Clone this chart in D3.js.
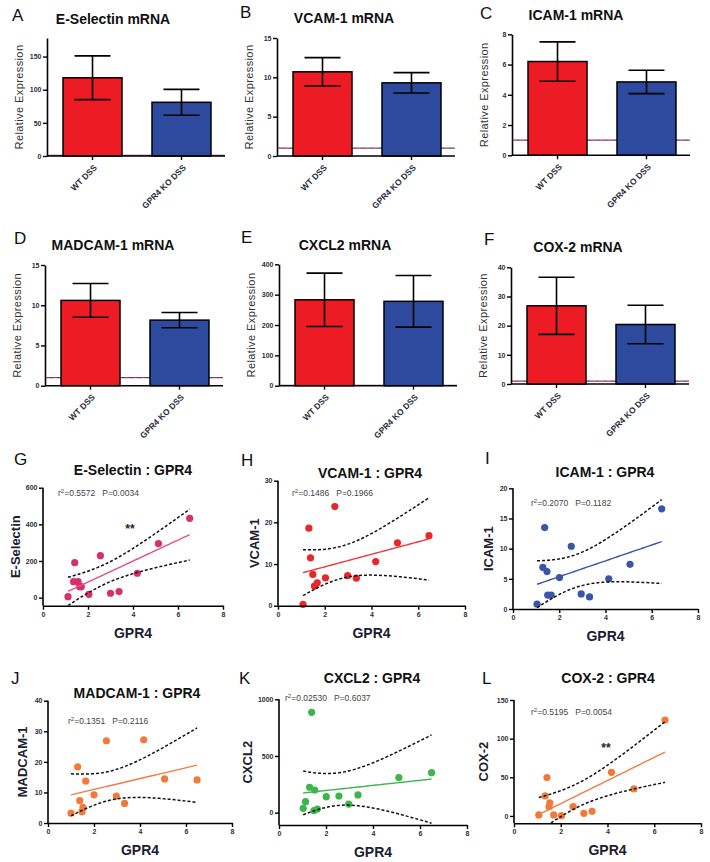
<!DOCTYPE html>
<html>
<head>
<meta charset="utf-8">
<script src="https://cdn.jsdelivr.net/npm/d3@7"></script>
<style>
  body { margin: 0; background: #fff; }
  svg { display: block; font-family: "Liberation Sans", Arial, sans-serif; }
</style>
</head>
<body>
<svg id="fig" width="710" height="862"></svg>
<script>
// ---- bar panels A-F (mean +/- SEM) ----
const barLetters = ["A", "B", "C", "D", "E", "F"];
const barTitles = ["E-Selectin mRNA", "VCAM-1 mRNA", "ICAM-1 mRNA", "MADCAM-1 mRNA", "CXCL2 mRNA", "COX-2 mRNA"];
const groups = ["WT DSS", "GPR4 KO DSS"];
const wtMean = [118, 10.7, 6.2, 10.6, 283, 26.8];
const wtSem = [33, 1.8, 1.3, 2.1, 88, 9.8];
const koMean = [81, 9.3, 4.85, 8.15, 278, 20.4];
const koSem = [19.5, 1.3, 0.77, 0.95, 85, 6.6];
const barMax = [178, 15, 8, 15, 400, 40];
const barTicks = [[0, 50, 100, 150], [0, 5, 10, 15], [0, 2, 4, 6, 8], [0, 5, 10, 15], [0, 100, 200, 300, 400], [0, 10, 20, 30, 40]];
const baseline = 1; // control level, dashed line

// ---- scatter panels G-L (vs GPR4) ----
const scatLetters = ["G", "H", "I", "J", "K", "L"];
const scatTitles = ["E-Selectin : GPR4", "VCAM-1 : GPR4", "ICAM-1 : GPR4", "MADCAM-1 : GPR4", "CXCL2 : GPR4", "COX-2 : GPR4"];
const scatYLabels = ["E-Selectin", "VCAM-1", "ICAM-1", "MADCAM-1", "CXCL2", "COX-2"];
const scatR2 = ["0.5572", "0.1486", "0.2070", "0.1351", "0.02530", "0.5195"];
const scatP = ["0.0034", "0.1966", "0.1182", "0.2116", "0.6037", "0.0054"];
const scatStars = ["**", "", "", "", "", "**"];
const xTicks = [0, 2, 4, 6, 8];
const yTicksList = [[0, 200, 400, 600], [0, 10, 20, 30], [0, 5, 10, 15, 20], [0, 10, 20, 30, 40], [0, 500, 1000], [0, 50, 100, 150]];

const gprG = [1.11, 1.41, 1.36, 1.56, 1.63, 1.70, 2.04, 2.55, 3.00, 3.38, 4.19, 5.13, 6.52];
const eSel = [5, 191, 87, 87, 60, 60, 18, 229, 24, 33, 133, 295, 433];
const gprH = [1.07, 1.32, 1.39, 1.49, 1.56, 1.68, 2.03, 2.43, 2.98, 3.35, 4.18, 5.11, 6.46];
const vcam = [0.3, 18.6, 11.5, 7.5, 4.7, 5.5, 6.7, 23.8, 7.2, 6.6, 10.6, 15.1, 16.8];
const gprI = [1.04, 1.29, 1.47, 1.37, 1.50, 1.65, 2.01, 2.52, 2.95, 3.31, 4.14, 5.06, 6.43];
const icam = [0.8, 6.9, 6.2, 13.5, 2.3, 2.3, 5.2, 10.4, 2.5, 2.0, 5.0, 7.4, 16.6];
const gprJ = [1.00, 1.29, 1.38, 1.48, 1.52, 1.64, 2.00, 2.54, 2.97, 3.33, 4.16, 5.07, 6.48];
const madcam = [3.2, 18.4, 7.3, 3.7, 5.1, 13.7, 9.2, 26.9, 8.8, 6.4, 27.2, 14.4, 14.1];
const gprK = [1.39, 1.03, 1.13, 1.30, 1.52, 1.49, 1.63, 2.01, 2.55, 2.97, 3.36, 5.10, 6.49];
const cxcl2 = [885, 38, 97, 224, 200, 18, 32, 141, 147, 76, 156, 309, 353];
const gprL = [1.06, 1.41, 1.33, 1.53, 1.50, 1.70, 2.03, 2.53, 2.99, 3.34, 4.17, 5.13, 6.46];
const cox2 = [1.3, 49.6, 25.9, 17, 12, 1.3, 0.4, 12, 3.4, 6, 56.5, 35, 124];

const scatX = [gprG, gprH, gprI, gprJ, gprK, gprL];
const scatY = [eSel, vcam, icam, madcam, cxcl2, cox2];
const scatColors = ["#d6306c", "#e8262b", "#3a55a8", "#f07a3a", "#3cb54a", "#f07a3a"];
const lineColors = ["#e4507f", "#ec3a3a", "#3a55a8", "#f37a45", "#3cb54a", "#f37a45"];

const T_975 = 2.201; // t(0.975, df = 11), n = 13

const svg = d3.select("#fig");
svg.append("rect").attr("width", 710).attr("height", 862).attr("fill", "#fff");

const barLayout = [
  { ox: 47, y0: 156, yTop: 38, lx: 12, ly: 21, tx: 113, ty: 24 },
  { ox: 277, y0: 156, yTop: 38, lx: 240, ly: 18, tx: 344, ty: 23 },
  { ox: 512, y0: 155.3, yTop: 34.3, lx: 480, ly: 19, tx: 576, ty: 20 },
  { ox: 45, y0: 385.7, yTop: 265, lx: 14, ly: 244, tx: 113, ty: 250 },
  { ox: 279, y0: 385.7, yTop: 264.3, lx: 241, ly: 243, tx: 345, ty: 250 },
  { ox: 511, y0: 384, yTop: 267.3, lx: 484, ly: 245, tx: 578, ty: 252 }
];

const scatLayout = [
  { x0: 43, x1: 223, yTop: 487.7, yBot: 605.7, yDom: [-44, 600], lx: 14, ly: 465, tx: 133, ty: 475, labX: 15, sx: 58, sy: 496, stX: 130, stY: 533 },
  { x0: 278, x1: 465, yTop: 480.7, yBot: 605.7, yDom: [0, 30], lx: 241, ly: 466, tx: 370, ty: 478, labX: 254, sx: 292, sy: 496 },
  { x0: 513, x1: 698, yTop: 488.3, yBot: 609, yDom: [0, 20], lx: 485, ly: 464, tx: 605, ty: 477, labX: 488, sx: 531, sy: 506 },
  { x0: 48, x1: 232, yTop: 700.7, yBot: 823, yDom: [0, 40], lx: 11, ly: 684, tx: 137, ty: 698, labX: 22, sx: 68, sy: 724 },
  { x0: 279, x1: 467, yTop: 699.3, yBot: 825, yDom: [-109, 1000], lx: 239, ly: 684, tx: 372, ty: 683, labX: 247, sx: 285, sy: 701 },
  { x0: 514, x1: 701, yTop: 700, yBot: 823.3, yDom: [-9.5, 150], lx: 482, ly: 684, tx: 608, ty: 683, labX: 483, sx: 531, sy: 715, stX: 606, stY: 752 }
];

function styleAxis(g) {
  g.select(".domain").attr("stroke", "#000").attr("stroke-width", 1.6);
  g.selectAll(".tick line").attr("stroke", "#000").attr("stroke-width", 1.4);
  g.selectAll(".tick text").attr("fill", "#2a2f3d").style("font-size", "7px").style("font-weight", "bold");
}

function drawBar(i) {
  const L = barLayout[i];
  const g = svg.append("g");
  const y = d3.scaleLinear().domain([0, barMax[i]]).range([L.y0, L.yTop]);
  const x = d3.scaleBand().domain(groups).range([L.ox, L.ox + 180]).paddingInner(0.337).paddingOuter(0.18);
  const means = [wtMean[i], koMean[i]];
  const sems = [wtSem[i], koSem[i]];

  // dashed control line, red/blue alternating
  g.append("line").attr("x1", L.ox).attr("x2", L.ox + 178).attr("y1", y(baseline)).attr("y2", y(baseline))
    .attr("stroke", "#e8262b").attr("stroke-width", 1.3).attr("stroke-dasharray", "4,4");
  g.append("line").attr("x1", L.ox + 4).attr("x2", L.ox + 178).attr("y1", y(baseline)).attr("y2", y(baseline))
    .attr("stroke", "#3347a0").attr("stroke-width", 1.3).attr("stroke-dasharray", "4,4");

  g.selectAll(".bar").data(groups).join("rect")
    .attr("x", d => x(d)).attr("width", x.bandwidth())
    .attr("y", (d, k) => y(means[k])).attr("height", (d, k) => L.y0 - y(means[k]))
    .attr("fill", (d, k) => k === 0 ? "#ed1c24" : "#2e4a9e")
    .attr("stroke", "#000").attr("stroke-width", 1.5);

  groups.forEach((d, k) => {
    const cx = x(d) + x.bandwidth() / 2;
    const hi = y(means[k] + sems[k]), lo = y(means[k] - sems[k]);
    g.append("line").attr("x1", cx).attr("x2", cx).attr("y1", hi).attr("y2", lo).attr("stroke", "#000").attr("stroke-width", 1.6);
    [hi, lo].forEach(v => g.append("line").attr("x1", cx - 18).attr("x2", cx + 18).attr("y1", v).attr("y2", v)
      .attr("stroke", "#000").attr("stroke-width", 1.6));
  });

  const ya = g.append("g").attr("transform", `translate(${L.ox},0)`)
    .call(d3.axisLeft(y).tickValues(barTicks[i]).tickSize(4).tickSizeOuter(0).tickPadding(1.5));
  styleAxis(ya);

  const xa = g.append("g").attr("transform", `translate(0,${L.y0})`)
    .call(d3.axisBottom(x).tickSize(4).tickSizeOuter(0));
  xa.select(".domain").attr("d", `M${L.ox},0H${L.ox + 178}`);
  styleAxis(xa);
  xa.selectAll(".tick text")
    .attr("x", 0).attr("y", 0).attr("dy", "0.35em")
    .attr("transform", "translate(3,10) rotate(-45)")
    .style("text-anchor", "end").style("font-size", "8.5px");

  g.append("text").attr("transform", `translate(${L.ox - 28},${(L.y0 + L.yTop) / 2}) rotate(-90)`)
    .attr("text-anchor", "middle").attr("dy", "0.35em")
    .style("font-size", "11px").attr("fill", "#333").style("letter-spacing", "0.4px")
    .text("Relative Expression");

  g.append("text").attr("x", L.lx).attr("y", L.ly).style("font-size", "17px").attr("fill", "#111").text(barLetters[i]);
  g.append("text").attr("x", L.tx).attr("y", L.ty).attr("text-anchor", "middle")
    .style("font-size", "14px").style("font-weight", "bold").attr("fill", "#111").text(barTitles[i]);
}

function linFit(xs, ys) {
  const n = xs.length, mx = d3.mean(xs), my = d3.mean(ys);
  const sxx = d3.sum(xs, v => (v - mx) ** 2);
  const sxy = d3.sum(xs, (v, k) => (v - mx) * (ys[k] - my));
  const b = sxy / sxx, a = my - b * mx;
  const s = Math.sqrt(d3.sum(xs, (v, k) => (ys[k] - a - b * v) ** 2) / (n - 2));
  return { a, b, half: v => T_975 * s * Math.sqrt(1 / n + (v - mx) ** 2 / sxx) };
}

function drawScatter(i) {
  const L = scatLayout[i];
  const xs = scatX[i], ys = scatY[i];
  const g = svg.append("g");
  const x = d3.scaleLinear().domain([0, 8]).range([L.x0, L.x1]);
  const y = d3.scaleLinear().domain(L.yDom).range([L.yBot, L.yTop]);

  const clipId = "clip" + i;
  g.append("clipPath").attr("id", clipId).append("rect")
    .attr("x", L.x0).attr("y", L.yTop - 20).attr("width", L.x1 - L.x0).attr("height", L.yBot - L.yTop + 20);

  g.selectAll(".dot").data(xs).join("circle")
    .attr("cx", d => x(d)).attr("cy", (d, k) => y(ys[k])).attr("r", 3.6)
    .attr("fill", scatColors[i]);

  const f = linFit(xs, ys);
  const xr = d3.range(0, 41).map(k => d3.min(xs) + (d3.max(xs) - d3.min(xs)) * k / 40);
  const line = d3.line().x(d => x(d[0])).y(d => y(d[1]));
  const lines = g.append("g").attr("clip-path", `url(#${clipId})`);
  lines.append("path").attr("d", line(xr.map(v => [v, f.a + f.b * v])))
    .attr("fill", "none").attr("stroke", lineColors[i]).attr("stroke-width", 1.4);
  [1, -1].forEach(sg => {
    lines.append("path").attr("d", line(xr.map(v => [v, f.a + f.b * v + sg * f.half(v)])))
      .attr("fill", "none").attr("stroke", "#111").attr("stroke-width", 1.5).attr("stroke-dasharray", "3,2");
  });

  const yt = yTicksList[i];
  const ya = g.append("g").attr("transform", `translate(${L.x0},0)`)
    .call(d3.axisLeft(y).tickValues(yt).tickFormat(d3.format("d")).tickSize(4).tickSizeOuter(0).tickPadding(1.5));
  ya.select(".domain").attr("d", `M0,${L.yBot}V${y(d3.max(yt))}`);
  styleAxis(ya);

  const xa = g.append("g").attr("transform", `translate(0,${L.yBot})`)
    .call(d3.axisBottom(x).tickValues(xTicks).tickSize(4).tickSizeOuter(0).tickPadding(2));
  styleAxis(xa);

  g.append("text").attr("transform", `translate(${L.labX},${(L.yTop + L.yBot) / 2}) rotate(-90)`)
    .attr("text-anchor", "middle").attr("dy", "0.35em")
    .style("font-size", "13px").style("font-weight", "bold").attr("fill", "#1b2030").text(scatYLabels[i]);
  g.append("text").attr("x", (L.x0 + L.x1) / 2).attr("y", L.yBot + 32).attr("text-anchor", "middle")
    .style("font-size", "14px").style("font-weight", "bold").attr("fill", "#1b2030").text("GPR4");

  const st = g.append("text").attr("x", L.sx).attr("y", L.sy).style("font-size", "8.5px").attr("fill", "#444");
  st.append("tspan").text("r");
  st.append("tspan").attr("dy", -3).style("font-size", "6px").text("2");
  st.append("tspan").attr("dy", 3).text("=" + scatR2[i] + "\u00a0\u00a0\u00a0P=" + scatP[i]);

  if (scatStars[i]) {
    g.append("text").attr("x", L.stX).attr("y", L.stY).attr("text-anchor", "middle")
      .style("font-size", "12px").style("font-weight", "bold").attr("fill", "#223").text(scatStars[i]);
  }

  g.append("text").attr("x", L.lx).attr("y", L.ly).style("font-size", "17px").attr("fill", "#111").text(scatLetters[i]);
  g.append("text").attr("x", L.tx).attr("y", L.ty).attr("text-anchor", "middle")
    .style("font-size", "14px").style("font-weight", "bold").attr("fill", "#111").text(scatTitles[i]);
}

d3.range(6).forEach(drawBar);
d3.range(6).forEach(drawScatter);
</script>
</body>
</html>
